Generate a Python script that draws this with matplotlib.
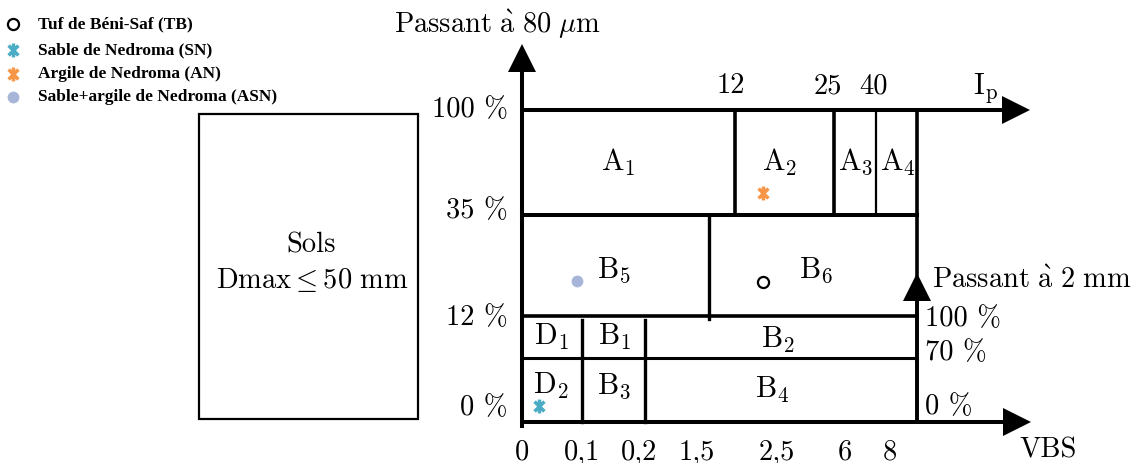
import matplotlib.pyplot as plt
import numpy as np
from matplotlib.patches import Polygon, Rectangle
from matplotlib.path import Path

plt.rcParams['mathtext.fontset'] = 'cm'
plt.rcParams['font.family'] = ['cmr10', 'DejaVu Serif']

# figure in schematic (pixel) units
W, H = 1137, 463

# classification frame
axis_x = 522
right_x = 917
top_y = 110
bottom_y = 422

# horizontal boundaries: (y, x_start, x_end, lw)
h_lines = [
    (215, axis_x, right_x, 2.9),   # 35 % passant 80 um
    (316, axis_x, right_x, 2.6),   # 12 %
    (358, axis_x, right_x, 2.2),   # 70 % passant 2 mm
]
# vertical boundaries: (x, y_start, y_end, lw)
v_lines = [
    (735, top_y, 215, 2.6),   # Ip = 12
    (834, top_y, 215, 2.6),   # Ip = 25
    (876, top_y, 215, 1.6),   # Ip = 40
    (right_x, top_y, bottom_y, 2.6),
    (709, 215, 319, 2.4),     # B5 / B6
    (582, 320, bottom_y, 2.4),  # VBS 0,1
    (645, 320, bottom_y, 2.4),  # VBS 0,2
]

vbs_labels = ['0', '0,1', '0,2', '1,5', '2,5', '6', '8']
vbs_x = [522, 582, 639, 697, 777, 845, 890]

ip_labels = ['12', '25', '40']
ip_x = [731, 828, 873]

p80_labels = ['100 %', '35 %', '12 %', '0 %']
p80_y = [110, 211, 318, 408]

p2_labels = ['100 %', '70 %', '0 %']
p2_y = [319, 353, 407]

classes = ['A_1', 'A_2', 'A_3', 'A_4', 'B_5', 'B_6',
           'D_1', 'B_1', 'B_2', 'D_2', 'B_3', 'B_4']
class_x = [618, 780, 856, 898, 614, 816, 551, 615, 778, 551, 614, 772]
class_y = [162, 162, 162, 162, 270, 270, 337, 337, 340, 386, 386, 390]

samples = ['Tuf de Béni-Saf (TB)', 'Sable de Nedroma (SN)',
           'Argile de Nedroma (AN)', 'Sable+argile de Nedroma (ASN)']
sample_x = [763, 539, 763, 577]
sample_y = [282, 406, 193, 281]
sample_color = ['black', '#4BACC6', '#F79646', '#A7B6D8']
legend_y = [24, 50, 74, 97]

d = np.sqrt(0.5)
star = Path([(0, -1), (0, 1), (-d, -d), (d, d), (-d, d), (d, -d)],
            [Path.MOVETO, Path.LINETO] * 3)
sample_style = [
    dict(marker='o', mfc='white', mec='black', mew=1.6, ms=8),
    dict(marker=star, color=sample_color[1], mew=2.5, ms=10),
    dict(marker=star, color=sample_color[2], mew=2.5, ms=10),
    dict(marker='o', color=sample_color[3], mew=0, ms=8.5),
]


def arrow(ax, x0, y0, x1, y1, lw=2.9, head=28, half=14):
    dx, dy = x1 - x0, y1 - y0
    n = np.hypot(dx, dy)
    ux, uy = dx / n, dy / n
    bx, by = x1 - ux * head, y1 - uy * head
    ax.plot([x0, bx], [y0, by], color='black', lw=lw, solid_capstyle='butt')
    ax.add_patch(Polygon([(x1, y1), (bx - uy * half, by + ux * half),
                          (bx + uy * half, by - ux * half)],
                         closed=True, color='black', lw=0))


fig = plt.figure(figsize=(W / 100, H / 100), dpi=100)
ax = fig.add_axes([0, 0, 1, 1])
ax.set_xlim(0, W)
ax.set_ylim(H, 0)
ax.axis('off')

# axes with arrows
arrow(ax, axis_x, bottom_y + 6, axis_x, 44)
arrow(ax, axis_x, top_y, 1030, top_y)
arrow(ax, axis_x, bottom_y, 1031, bottom_y)
arrow(ax, right_x, bottom_y, right_x, 273, lw=2.6)

for y, xa, xb, lw in h_lines:
    ax.plot([xa, xb], [y, y], color='black', lw=lw)
for x, ya, yb, lw in v_lines:
    ax.plot([x, x], [ya, yb], color='black', lw=lw)

fs = 20.5
ax.text(498, 24, r'$\mathrm{Passant\ \grave{a}\ 80\ }\mu\mathrm{m}$', fontsize=fs,
        ha='center', va='center')
ax.text(932, 280, r'$\mathrm{Passant\ \grave{a}\ 2\ mm}$', fontsize=fs,
        ha='left', va='center')
ax.text(985, 88, r'$\mathrm{I}_\mathrm{p}$', fontsize=fs + 1, ha='center', va='center')
ax.text(1048, 450, 'VBS', fontsize=fs, ha='center', va='center')

for lab, x in zip(vbs_labels, vbs_x):
    ax.text(x, 452, lab, fontsize=fs, ha='center', va='center')
for lab, x in zip(ip_labels, ip_x):
    ax.text(x, 86, lab, fontsize=fs, ha='center', va='center')
for lab, y in zip(p80_labels, p80_y):
    ax.text(508, y, lab, fontsize=fs, ha='right', va='center')
for lab, y in zip(p2_labels, p2_y):
    ax.text(925, y, lab, fontsize=fs, ha='left', va='center')
for lab, x, y in zip(classes, class_x, class_y):
    ax.text(x, y, r'$\mathrm{%s}$' % lab, fontsize=fs + 1, ha='center', va='center')

# soils box
ax.add_patch(Rectangle((199, 114), 219, 305, fill=False, ec='black', lw=1.6))
ax.text(311, 245, 'Sols', fontsize=fs, ha='center', va='center')
ax.text(312, 280, r'$\mathrm{Dmax} \leq \mathrm{50\ mm}$', fontsize=fs,
        ha='center', va='center')

# samples and legend
for name, x, y, ly, st in zip(samples, sample_x, sample_y, legend_y, sample_style):
    ax.plot(x, y, ls='none', **st)
    ax.plot(13, ly, ls='none', **st)
    ax.text(38, ly, name, ha='left', va='center', fontsize=12.5,
            family='Liberation Serif', weight='bold')

fig.savefig('out.png', dpi=100)
